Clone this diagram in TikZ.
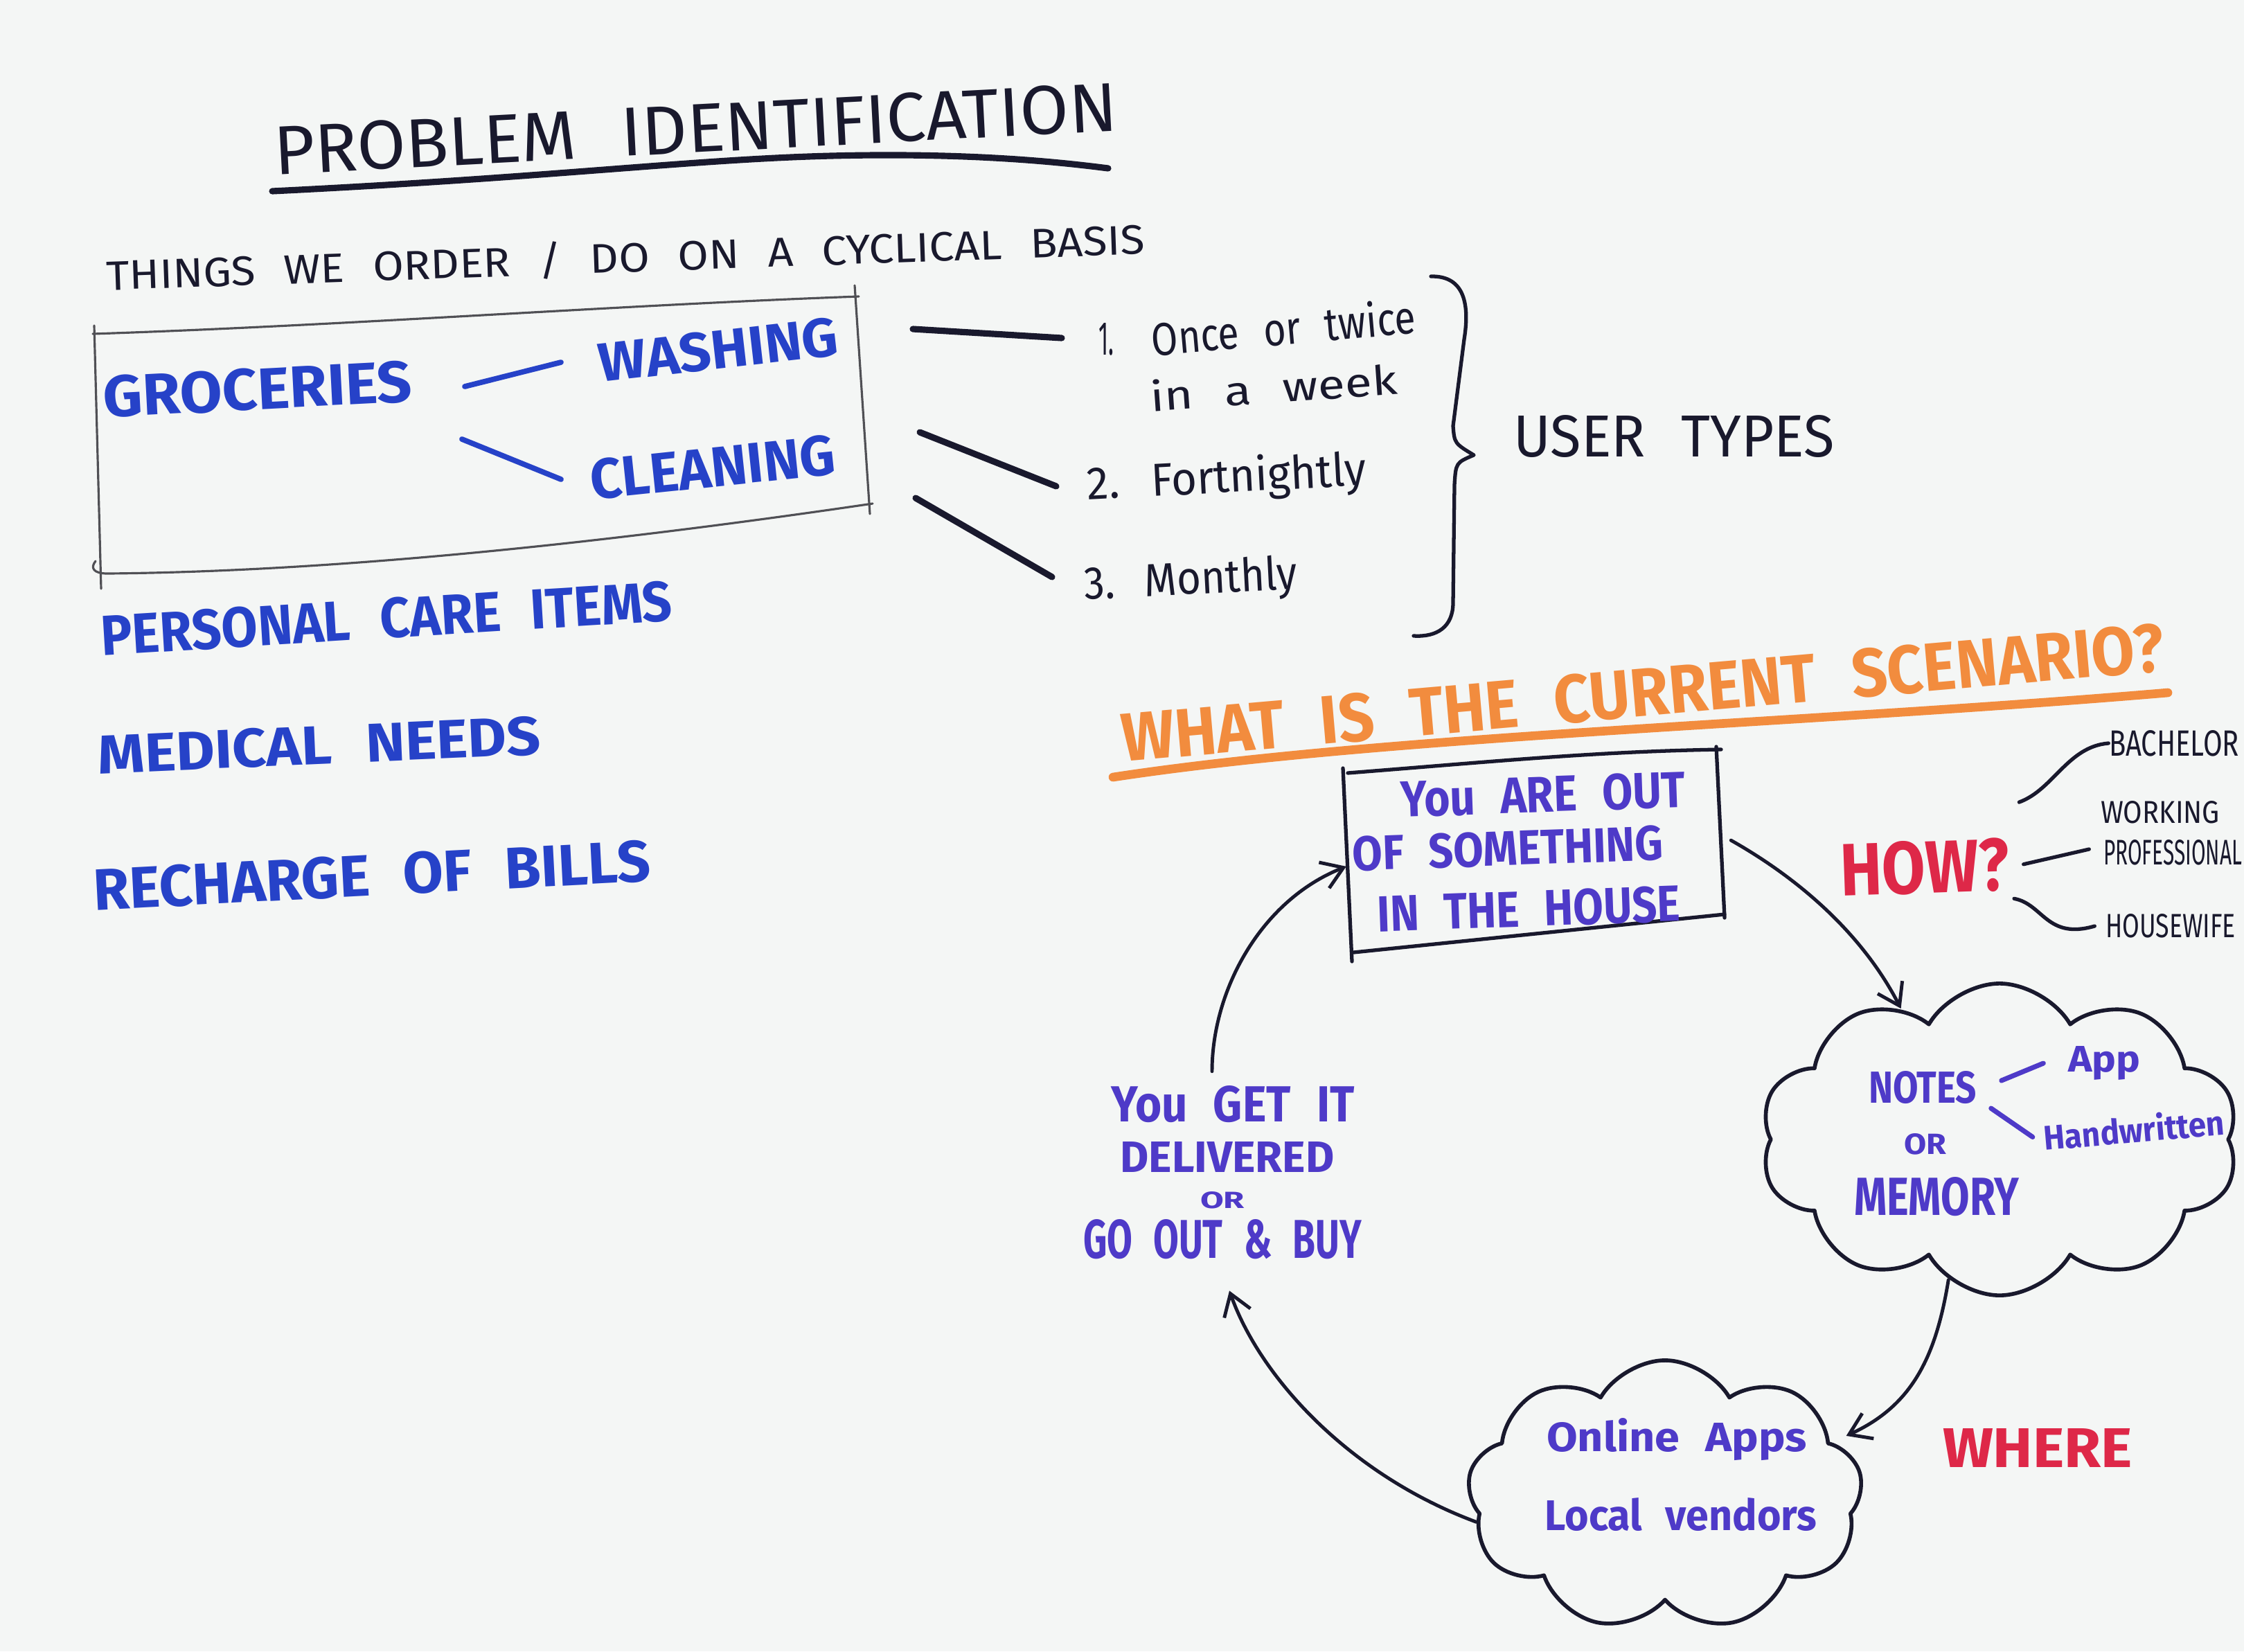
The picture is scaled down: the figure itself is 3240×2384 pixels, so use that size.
\documentclass[tikz,border=0pt]{standalone}
\usepackage{fontspec}
\usepackage{graphicx}
\setmainfont{Fira Sans}
\newfontfamily\handfont[WordSpace=2.4]{Fira Sans}
\usetikzlibrary{shapes.symbols,arrows.meta}
\definecolor{paper}{RGB}{244,246,245}
\definecolor{ink}{RGB}{25,25,45}
\definecolor{pencil}{RGB}{80,80,85}
\definecolor{mblue}{RGB}{38,66,200}
\definecolor{mpurple}{RGB}{78,58,200}
\definecolor{morange}{RGB}{242,140,62}
\definecolor{mred}{RGB}{222,40,72}
\newdimen\pxu \pxu=0.01cm
\newcommand\fwh[3]{\resizebox{#1\pxu}{#2\pxu}{#3}}
\begin{document}
\begin{tikzpicture}[x=0.01cm,y=-0.01cm,line cap=round,line join=round,
  pen/.style={text=ink,font=\handfont,inner sep=0pt},
  bluetxt/.style={text=mblue,font=\handfont\bfseries,inner sep=0pt},
  purptxt/.style={text=mpurple,font=\handfont\bfseries,inner sep=0pt},
  orangetxt/.style={text=morange,font=\handfont\bfseries,inner sep=0pt},
  redtxt/.style={text=mred,font=\handfont\bfseries,inner sep=0pt},
  pencilline/.style={draw=pencil,line width=0.9pt},
  inkline/.style={draw=ink,line width=1.5pt},
  thickink/.style={draw=ink,line width=2.6pt},
  blueline/.style={draw=mblue,line width=2.2pt},
  purpline/.style={draw=mpurple,line width=2pt},
  orangeline/.style={draw=morange,line width=3.6pt},
  arr/.style={draw=ink,line width=1.4pt,-{Straight Barb[length=0.3cm,width=0.4cm]}},
  cloudbox/.style={cloud,draw=ink,line width=1.6pt,cloud puffs=10,cloud puff arc=120,inner sep=0pt}]
\useasboundingbox (0,0) rectangle (3240,2384);
\fill[paper] (0,0) rectangle (3240,2384);

% ---------- title ----------
\node[pen,rotate=3] (title) at (1004,186) {\fwh{1219}{70}{PROBLEM IDENTIFICATION}};
\draw[thickink] (393,276) .. controls (800,256) and (1000,230) .. (1200,225) .. controls (1400,220) and (1530,234) .. (1600,243);
\node[pen,rotate=2] (things) at (903,372) {\fwh{1500}{48}{THINGS WE ORDER / DO ON A CYCLICAL BASIS}};

% ---------- groceries box ----------
\draw[pencilline] (134,482) .. controls (500,470) and (900,440) .. (1240,428);
\draw[pencilline] (1234,412) -- (1256,742);
\draw[pencilline] (1260,727) .. controls (900,780) and (500,825) .. (155,828) .. controls (135,828) and (130,820) .. (138,810);
\draw[pencilline] (136,470) -- (146,850);
\node[bluetxt,rotate=3] (groc) at (372,562) {\fwh{446}{60}{GROCERIES}};
\node[bluetxt,rotate=6.5] (wash) at (1037,505) {\fwh{347}{56}{WASHING}};
\node[bluetxt,rotate=6] (clean) at (1029,675) {\fwh{355}{58}{CLEANING}};
\draw[blueline] (671,558) -- (810,523);
\draw[blueline] (667,634) -- (810,692);

% ---------- other needs ----------
\node[bluetxt,rotate=3.5] (pers) at (558,893) {\fwh{826}{58}{PERSONAL CARE ITEMS}};
\node[bluetxt,rotate=2.5] (med) at (461,1076) {\fwh{640}{56}{MEDICAL NEEDS}};
\node[bluetxt,rotate=3] (bills) at (537,1264) {\fwh{806}{60}{RECHARGE OF BILLS}};

% ---------- frequencies ----------
\coordinate (l1a) at (1318,475); \coordinate (l1b) at (1533,488);
\coordinate (l2a) at (1328,624); \coordinate (l2b) at (1525,702);
\coordinate (l3a) at (1322,719); \coordinate (l3b) at (1519,833);
\draw[thickink] (l1a) -- (l1b);
\draw[thickink] (l2a) -- (l2b);
\draw[thickink] (l3a) -- (l3b);
\node[pen] (n1) at (1597,490) {\fwh{22}{46}{1.}};
\node[pen,rotate=5] (once) at (1853,472) {\fwh{382}{52}{Once or twice}};
\node[pen,rotate=4] (week) at (1839,559) {\fwh{357}{46}{in a week}};
\node[pen,rotate=3] (fort) at (1771,692) {\fwh{403}{52}{2. Fortnightly}};
\node[pen,rotate=3] (month) at (1719,840) {\fwh{308}{50}{3. Monthly}};
\coordinate (br0) at (2066,399);
\coordinate (brtip) at (2128,657);
\coordinate (br1) at (2041,918);
\draw[inkline] (br0) .. controls (2115,398) and (2122,440) .. (2114,490) -- (2098,615) .. controls (2100,640) .. (brtip) .. controls (2102,668) .. (2100,700) -- (2098,870) .. controls (2098,905) and (2075,920) .. (br1);
\node[pen] (users) at (2417,630) {\fwh{463}{60}{USER TYPES}};

% ---------- current scenario ----------
\node[orangetxt,rotate=5] (scen) at (2372,1000) {\fwh{1510}{70}{WHAT IS THE CURRENT SCENARIO?}};
\draw[orangeline] (1607,1122) .. controls (2000,1062) and (2600,1045) .. (3130,1000);

\node[rotate=4,minimum width=5.4cm,minimum height=2.6cm,inner sep=0pt] (outbox) at (2214,1232) {};
\draw[inkline] (1946,1116) .. controls (2150,1100) and (2300,1085) .. (2485,1082);
\draw[inkline] (1939,1109) -- (1952,1388);
\draw[inkline] (1954,1375) -- (2490,1320);
\draw[inkline] (2478,1078) -- (2490,1325);
\node[purptxt,rotate=2] (out1) at (2228,1147) {\fwh{411}{52}{You ARE OUT}};
\node[purptxt,rotate=2] (out2) at (2177,1225) {\fwh{449}{50}{OF SOMETHING}};
\node[purptxt,rotate=2] (out3) at (2207,1312) {\fwh{437}{52}{IN THE HOUSE}};

\node[redtxt,rotate=2] (how) at (2779,1252) {\fwh{244}{76}{HOW?}};
\node[pen] (bach) at (3139,1073) {\fwh{188}{37}{BACHELOR}};
\node[pen] (work) at (3119,1173) {\fwh{172}{32}{WORKING}};
\node[pen] (prof) at (3137,1231) {\fwh{200}{36}{PROFESSIONAL}};
\node[pen] (wife) at (3134,1337) {\fwh{188}{34}{HOUSEWIFE}};
\draw[inkline] ([xshift=0.15cm,yshift=0.5cm]how.north east) .. controls (2965,1140) and (2985,1078) .. (bach.west);
\draw[inkline] ([xshift=0.2cm]how.east) -- ([xshift=-0.2cm,yshift=0.05cm]prof.west);
\draw[inkline] ([xshift=0.05cm,yshift=-0.1cm]how.south east) .. controls (2950,1305) and (2955,1357) .. ([xshift=-0.15cm]wife.west);

\node[cloudbox,minimum width=6.9cm,minimum height=4.5cm,aspect=1.54] (c1) at (2887,1645) {};
\node[purptxt] (notes) at (2776,1570) {\fwh{156}{46}{NOTES}};
\node[purptxt] (or1) at (2780,1652) {\fwh{61}{30}{OR}};
\node[purptxt] (mem) at (2796,1728) {\fwh{238}{55}{MEMORY}};
\node[purptxt] (app) at (3038,1535) {\fwh{104}{37}{App}};
\node[purptxt,rotate=5] (hand) at (3081,1630) {\fwh{262}{40}{Handwritten}};
\draw[purpline] ([xshift=0.35cm,yshift=0.1cm]notes.east) -- ([xshift=-0.35cm]app.west);
\draw[purpline] ([xshift=0.2cm,yshift=-0.3cm]notes.east) -- ([xshift=-0.15cm]hand.west);

\node[cloudbox,cloud puffs=9,minimum width=5.7cm,minimum height=3.9cm,aspect=1.46] (c2) at (2404,2159) {};
\node[purptxt] (online) at (2421,2078) {\fwh{376}{48}{Online Apps}};
\node[purptxt] (local) at (2427,2186) {\fwh{393}{47}{Local vendors}};
\node[redtxt] (where) at (2942,2090) {\fwh{274}{56}{WHERE}};

\node[purptxt] (get1) at (1780,1594) {\fwh{351}{52}{You GET IT}};
\node[purptxt] (get2) at (1772,1670) {\fwh{309}{44}{DELIVERED}};
\node[purptxt] (get3) at (1765,1733) {\fwh{64}{24}{OR}};
\node[purptxt] (get4) at (1765,1789) {\fwh{402}{56}{GO OUT \& BUY}};

% ---------- cycle arrows ----------
\draw[arr] ([xshift=0.15cm]outbox.east) .. controls (2600,1270) and (2690,1350) .. (c1.127);
\draw[arr] (c1.250) .. controls (2795,1960) and (2760,2030) .. ([xshift=0.25cm]c2.20);
\draw[arr] (c2.188) .. controls (1950,2130) and (1820,1990) .. ([xshift=0.1cm,yshift=-0.45cm]get4.south);
\draw[arr] ([xshift=-0.3cm,yshift=0.2cm]get1.north) .. controls (1750,1430) and (1820,1300) .. (outbox.west);
\end{tikzpicture}
\end{document}
